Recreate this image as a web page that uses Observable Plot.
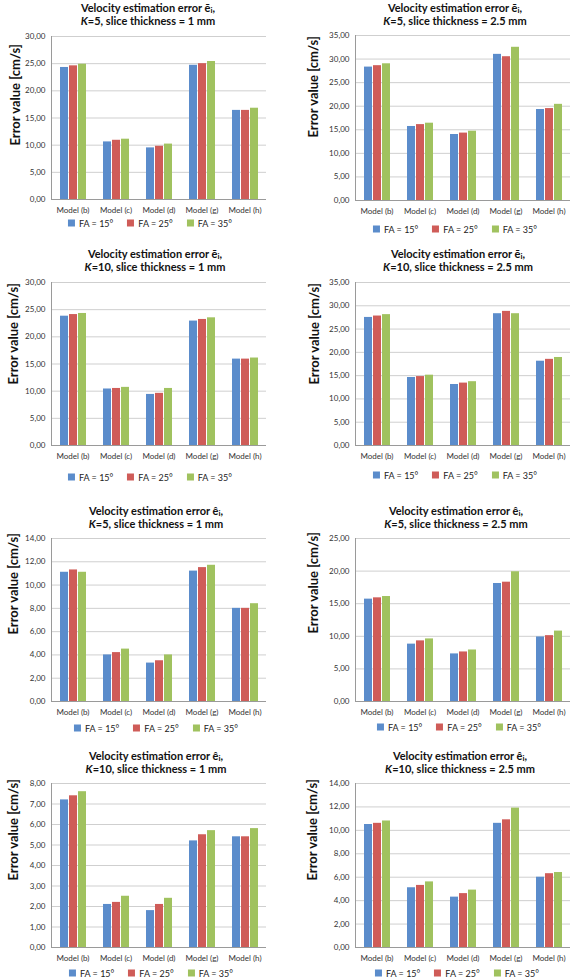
<!DOCTYPE html>
<html><head><meta charset="utf-8">
<script src="https://cdn.jsdelivr.net/npm/d3@7"></script>
<script src="https://cdn.jsdelivr.net/npm/@observablehq/plot@0.6"></script>
<style>
body{margin:0;background:#fff;width:572px;height:979px;position:relative;overflow:hidden;font-family:Lato,"Liberation Sans",sans-serif;}
.title{position:absolute;transform:translate(-50%,-50%);font-weight:bold;font-size:11px;line-height:13px;white-space:nowrap;color:#111;text-align:center;}
.title sub{font-size:8px;line-height:0;vertical-align:baseline;position:relative;top:1px;}
.legend{position:absolute;transform:translate(-50%,-50%);font-size:9px;white-space:nowrap;display:flex;align-items:center;color:#222;}
.item{display:flex;align-items:center;margin:0 7px;}
.sw{display:inline-block;width:7px;height:7px;margin-right:4px;}
.panel{position:absolute;}
.panel svg{overflow:visible;}
</style>
</head><body>
<script>
// ---- data ----
const models = ["Model (b)", "Model (c)", "Model (d)", "Model (g)", "Model (h)"];
const series = ["FA = 15°", "FA = 25°", "FA = 35°"];
const yLabel = "Error value [cm/s]";

const titleLine1 = [
  "Velocity estimation error ē<sub>i</sub>,", "Velocity estimation error ē<sub>i</sub>,",
  "Velocity estimation error ē<sub>i</sub>,", "Velocity estimation error ē<sub>i</sub>,",
  "Velocity estimation error ê<sub>i</sub>,", "Velocity estimation error ê<sub>i</sub>,",
  "Velocity estimation error ê<sub>i</sub>,", "Velocity estimation error ê<sub>i</sub>,"
];
const titleLine2 = [
  "<i>K</i>=5, slice thickness = 1 mm", "<i>K</i>=5, slice thickness = 2.5 mm",
  "<i>K</i>=10, slice thickness = 1 mm", "<i>K</i>=10, slice thickness = 2.5 mm",
  "<i>K</i>=5, slice thickness = 1 mm", "<i>K</i>=5, slice thickness = 2.5 mm",
  "<i>K</i>=10, slice thickness = 1 mm", "<i>K</i>=10, slice thickness = 2.5 mm"
];

// values per model: [FA15, FA25, FA35]
const ebarK5t1   = [[24.3,24.6,24.9],[10.6,10.9,11.1],[9.5,9.8,10.2],[24.7,25.0,25.4],[16.4,16.4,16.8]];
const ebarK5t25  = [[28.3,28.6,29.0],[15.7,16.1,16.4],[14.0,14.3,14.7],[31.0,30.5,32.5],[19.3,19.5,20.4]];
const ebarK10t1  = [[23.8,24.1,24.3],[10.4,10.5,10.7],[9.4,9.6,10.5],[22.9,23.2,23.5],[15.9,15.9,16.1]];
const ebarK10t25 = [[27.5,27.8,28.1],[14.6,14.8,15.1],[13.1,13.4,13.7],[28.3,28.8,28.3],[18.1,18.5,18.9]];
const ehatK5t1   = [[11.1,11.3,11.1],[4.0,4.2,4.5],[3.3,3.5,4.0],[11.2,11.5,11.7],[8.0,8.0,8.4]];
const ehatK5t25  = [[15.7,15.9,16.1],[8.8,9.3,9.6],[7.3,7.6,7.9],[18.1,18.3,19.9],[9.9,10.1,10.8]];
const ehatK10t1  = [[7.2,7.4,7.6],[2.1,2.2,2.5],[1.8,2.1,2.4],[5.2,5.5,5.7],[5.4,5.4,5.8]];
const ehatK10t25 = [[10.5,10.6,10.8],[5.1,5.3,5.6],[4.3,4.6,4.9],[10.6,10.9,11.9],[6.0,6.3,6.4]];
const panelValues = [ebarK5t1, ebarK5t25, ebarK10t1, ebarK10t25, ehatK5t1, ehatK5t25, ehatK10t1, ehatK10t25];

// y axis tick labels (max and step)
const yMaxes = [30, 35, 30, 35, 14, 25, 8, 14];
const ySteps = [5, 5, 5, 5, 2, 5, 1, 2];

// ---- style ----
const colors = ["#5B8CCB", "#CF5C58", "#A0C25F"];
const fontStack = "Lato, 'Liberation Sans', sans-serif";

// ---- layout (pixel positions of each panel) ----
const layout = [
  {L:0,   PL:49,  PR:267, TC:14,  TX:148, PT:36,  PB:199, LG:223, LX:150, YX:13,  YC:145},
  {L:286, PL:353, PR:571, TC:14,  TX:455, PT:35,  PB:200, LG:229, LX:455, YX:311, YC:137},
  {L:0,   PL:50,  PR:267, TC:260, TX:155, PT:282, PB:445, LG:477, LX:150, YX:12,  YC:384},
  {L:286, PL:354, PR:571, TC:260, TX:458, PT:282, PB:445, LG:475, LX:455, YX:313, YC:384},
  {L:0,   PL:50,  PR:267, TC:517, TX:156, PT:538, PB:701, LG:728, LX:156, YX:12,  YC:634},
  {L:286, PL:353, PR:571, TC:517, TX:456, PT:538, PB:701, LG:727, LX:459, YX:311, YC:633},
  {L:0,   PL:50,  PR:267, TC:762, TX:156, PT:783, PB:947, LG:973, LX:151, YX:12,  YC:880},
  {L:286, PL:353, PR:571, TC:762, TX:460, PT:783, PB:947, LG:973, LX:457, YX:310, YC:880}
];

const fmt = d3.formatLocale({decimal: ",", thousands: ".", grouping: [3], currency: ["", ""]}).format(".2f");

function drawPanel(i) {
  const lay = layout[i];
  const data = [];
  models.forEach((m, mi) => series.forEach((s, si) => data.push({model: m, fa: s, value: panelValues[i][mi][si]})));
  const yMax = yMaxes[i], step = ySteps[i];
  const ticks = d3.range(0, yMax + step / 2, step);
  const mt = 8, mb = 22;
  const height = lay.PB - lay.PT + mt + mb;

  const chart = Plot.plot({
    width: 286, height,
    marginLeft: lay.PL - lay.L, marginRight: lay.L + 286 - lay.PR, marginTop: mt, marginBottom: mb,
    style: {fontFamily: fontStack, fontSize: "8px", color: "#333", background: "transparent", overflow: "visible"},
    fx: {domain: models, padding: 0, label: null, axis: "bottom", tickSize: 0, tickPadding: 8},
    x: {domain: series, paddingInner: 0.12, paddingOuter: 0.75, axis: null},
    y: {domain: [0, yMax], axis: null},
    color: {domain: series, range: colors},
    marks: [
      Plot.gridY(ticks, {stroke: "#cfcfcf", strokeOpacity: 1}),
      Plot.axisY(ticks, {tickSize: 0, tickPadding: 6, tickFormat: fmt, label: null, fill: "#333"}),
      Plot.barY(data, {fx: "model", x: "fa", y: "value", fill: "fa"}),
      Plot.ruleY([0], {stroke: "#9a9a9a"}),
      Plot.frame({anchor: "left", stroke: "#9a9a9a", facetAnchor: "left"}),
      Plot.text([yLabel], {frameAnchor: "left", facetAnchor: "left", text: d => d, rotate: -90,
        dx: lay.YX - lay.PL, dy: lay.YC - (lay.PT + lay.PB) / 2,
        fontSize: 13, fontWeight: "bold", fill: "#111"})
    ]
  });
  const wrap = document.createElement("div");
  wrap.className = "panel";
  wrap.style.left = lay.L + "px";
  wrap.style.top = (lay.PT - mt) + "px";
  wrap.appendChild(chart);
  document.body.appendChild(wrap);

  const t = document.createElement("div");
  t.className = "title";
  t.style.left = lay.TX + "px";
  t.style.top = lay.TC + "px";
  t.innerHTML = titleLine1[i] + "<br>" + titleLine2[i];
  document.body.appendChild(t);

  const lg = document.createElement("div");
  lg.className = "legend";
  lg.style.left = lay.LX + "px";
  lg.style.top = lay.LG + "px";
  series.forEach((s, si) => {
    const it = document.createElement("span");
    it.className = "item";
    const sw = document.createElement("span");
    sw.className = "sw";
    sw.style.background = colors[si];
    it.appendChild(sw);
    it.appendChild(document.createTextNode(s));
    lg.appendChild(it);
  });
  document.body.appendChild(lg);
}

for (let i = 0; i < 8; i++) drawPanel(i);
</script>
</body></html>
